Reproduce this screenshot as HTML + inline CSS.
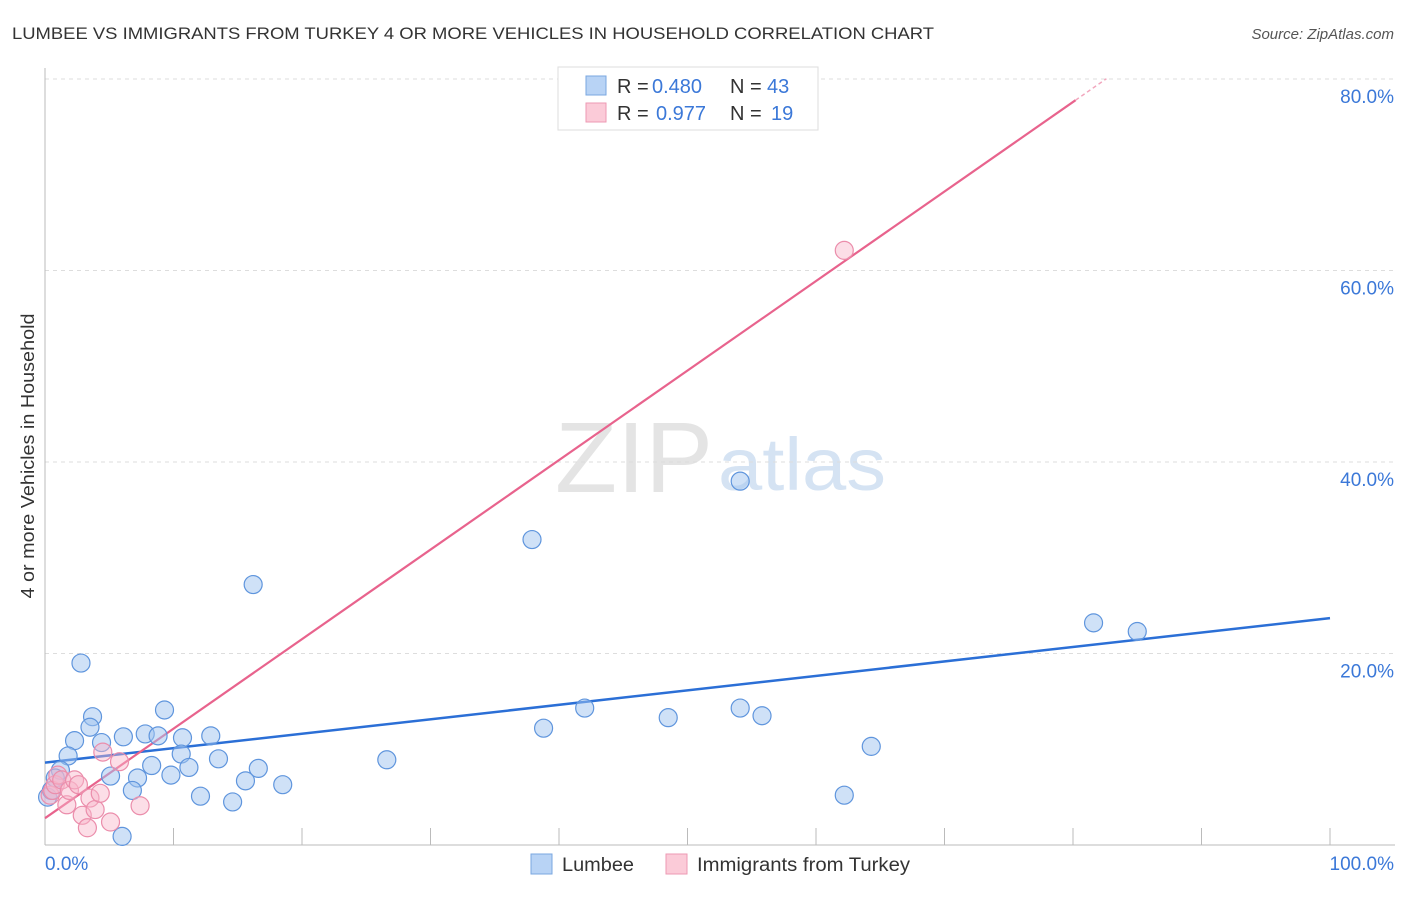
<!DOCTYPE html>
<html><head><meta charset="utf-8"><style>
body{margin:0;background:#fff;font-family:"Liberation Sans",sans-serif;}
svg text{font-family:"Liberation Sans",sans-serif;}
</style></head><body>
<svg id="chart" width="1406" height="892" xmlns="http://www.w3.org/2000/svg">
<text x="12" y="39" font-size="17" fill="#333" textLength="922" lengthAdjust="spacingAndGlyphs">LUMBEE VS IMMIGRANTS FROM TURKEY 4 OR MORE VEHICLES IN HOUSEHOLD CORRELATION CHART</text>
<text x="1394" y="39" font-size="15" fill="#555" text-anchor="end" font-style="italic">Source: ZipAtlas.com</text>
<text x="555" y="492" font-size="100" fill="#e4e4e4" font-family="Liberation Serif,serif" textLength="158" lengthAdjust="spacingAndGlyphs">ZIP</text>
<text x="718" y="490" font-size="74" fill="#d5e3f3" textLength="168" lengthAdjust="spacingAndGlyphs">atlas</text>
<g id="grid"></g>
<g id="axes"></g>
<text transform="translate(34,456) rotate(-90)" font-size="18" fill="#333" text-anchor="middle" textLength="285" lengthAdjust="spacingAndGlyphs">4 or more Vehicles in Household</text>
<text x="45" y="870" font-size="19" fill="#3b78d8">0.0%</text>
<text x="1394" y="870" font-size="19" fill="#3b78d8" text-anchor="end">100.0%</text>
<g id="lines"></g>
<g id="points"></g>
<g>
<rect x="558" y="67" width="260" height="63" fill="#fff" stroke="#ddd"/>
<rect x="586" y="76" width="20" height="19" fill="#b8d3f5" stroke="#7aa7e0"/>
<rect x="586" y="103" width="20" height="19" fill="#fbcbd8" stroke="#ee9ab3"/>
<text x="617" y="93" font-size="20" fill="#333">R = <tspan fill="#3b78d8" x="652">0.480</tspan><tspan x="730">N = </tspan><tspan fill="#3b78d8" x="767">43</tspan></text>
<text x="617" y="120" font-size="20" fill="#333">R = <tspan fill="#3b78d8" x="656">0.977</tspan><tspan x="730">N = </tspan><tspan fill="#3b78d8" x="771">19</tspan></text>
</g>
<g>
<rect x="531" y="854" width="21" height="20" fill="#b8d3f5" stroke="#7aa7e0"/>
<text x="562" y="871" font-size="19" fill="#333" textLength="72" lengthAdjust="spacingAndGlyphs">Lumbee</text></g>
<g>
<rect x="666" y="854" width="21" height="20" fill="#fbcbd8" stroke="#ee9ab3"/>
<text x="697" y="871" font-size="19" fill="#333" textLength="213" lengthAdjust="spacingAndGlyphs">Immigrants from Turkey</text></g>
</svg>
<script>
const yTicks=[20,40,60,80];
const yTickLabels=["20.0%","40.0%","60.0%","80.0%"];
const xTicks=[0,10,20,30,40,50,60,70,80,90,100];
const lumbeeX=[2.8,3.7,3.5,2.3,1.8,1.2,0.2,0.5,0.8,4.4,6.1,7.8,9.3,8.8,10.7,12.9,10.6,8.3,7.2,5.1,6.8,9.8,11.2,13.5,15.6,16.6,12.1,14.6,18.5,6.0,16.2,26.6,37.9,38.8,42.0,48.5,54.1,54.1,55.8,62.2,64.3,81.6,85.0];
const lumbeeY=[19.0,13.4,12.3,10.9,9.3,7.8,5.0,5.7,7.0,10.7,11.3,11.6,14.1,11.4,11.2,11.4,9.5,8.3,7.0,7.2,5.7,7.3,8.1,9.0,6.7,8.0,5.1,4.5,6.3,0.9,27.2,8.9,31.9,12.2,14.3,13.3,38.0,14.3,13.5,5.2,10.3,23.2,22.3];
const turkeyX=[0.4,0.6,0.8,1.0,1.3,1.7,1.9,2.3,2.6,2.9,3.3,3.5,3.9,4.3,4.5,5.1,5.8,7.4,62.2];
const turkeyY=[5.2,5.7,6.3,7.3,6.8,4.2,5.7,6.8,6.3,3.1,1.8,4.9,3.7,5.4,9.7,2.4,8.7,4.1,62.1];
const lumbeeTrend=[8.6,23.7];
const turkeyTrend=[2.8,0.935];
const NS="http://www.w3.org/2000/svg";
const sx=v=>45+v*12.85, sy=v=>845-v*9.575;
function mk(tag,attrs,parent){const e=document.createElementNS(NS,tag);for(const k in attrs)e.setAttribute(k,attrs[k]);parent.appendChild(e);return e;}
const grid=document.getElementById('grid'),axes=document.getElementById('axes'),lines=document.getElementById('lines'),pts=document.getElementById('points');
yTicks.forEach((t,i)=>{
 const l=mk('line',{x1:45,x2:1395,y1:sy(t),y2:sy(t),stroke:'#ddd','stroke-dasharray':'4,4'},grid);
 
 
 const tx=mk('text',{x:1394,y:sy(t)+24,'font-size':19,fill:'#3b78d8','text-anchor':'end'},grid);
 tx.textContent=yTickLabels[i];
 
 
});
const ya=mk('line',{x1:45,x2:45,y1:68,y2:845,stroke:'#bbb'},axes);


const xa=mk('line',{x1:45,x2:1395,y1:845,y2:845,stroke:'#bbb'},axes);


xTicks.forEach(t=>{
 const l=mk('line',{x1:sx(t),x2:sx(t),y1:828,y2:845,stroke:'#bbb'},axes);
 
 
});
const bl=mk('line',{x1:sx(0),y1:sy(lumbeeTrend[0]),x2:sx(100),y2:sy(lumbeeTrend[1]),stroke:'#2b6fd6','stroke-width':2.5},lines);


const tf=x=>turkeyTrend[0]+turkeyTrend[1]*x;
const pl=mk('line',{x1:sx(0),y1:sy(tf(0)),x2:sx(80.2),y2:sy(tf(80.2)),stroke:'#e8638d','stroke-width':2.2},lines);


const pd=mk('line',{x1:sx(80.2),y1:sy(tf(80.2)),x2:sx(82.6),y2:sy(tf(82.6)),stroke:'#f2a6bd','stroke-width':1.5,'stroke-dasharray':'4,3'},lines);


lumbeeX.forEach((x,i)=>{
 const c=mk('circle',{cx:sx(x),cy:sy(lumbeeY[i]),r:9,fill:'rgba(160,196,240,0.5)',stroke:'#5f95dd','stroke-width':1.2},pts);
 
 
});
turkeyX.forEach((x,i)=>{
 const c=mk('circle',{cx:sx(x),cy:sy(turkeyY[i]),r:9,fill:'rgba(248,182,202,0.45)',stroke:'#eb8dab','stroke-width':1.2},pts);
 
 
});
</script>
</body></html>
